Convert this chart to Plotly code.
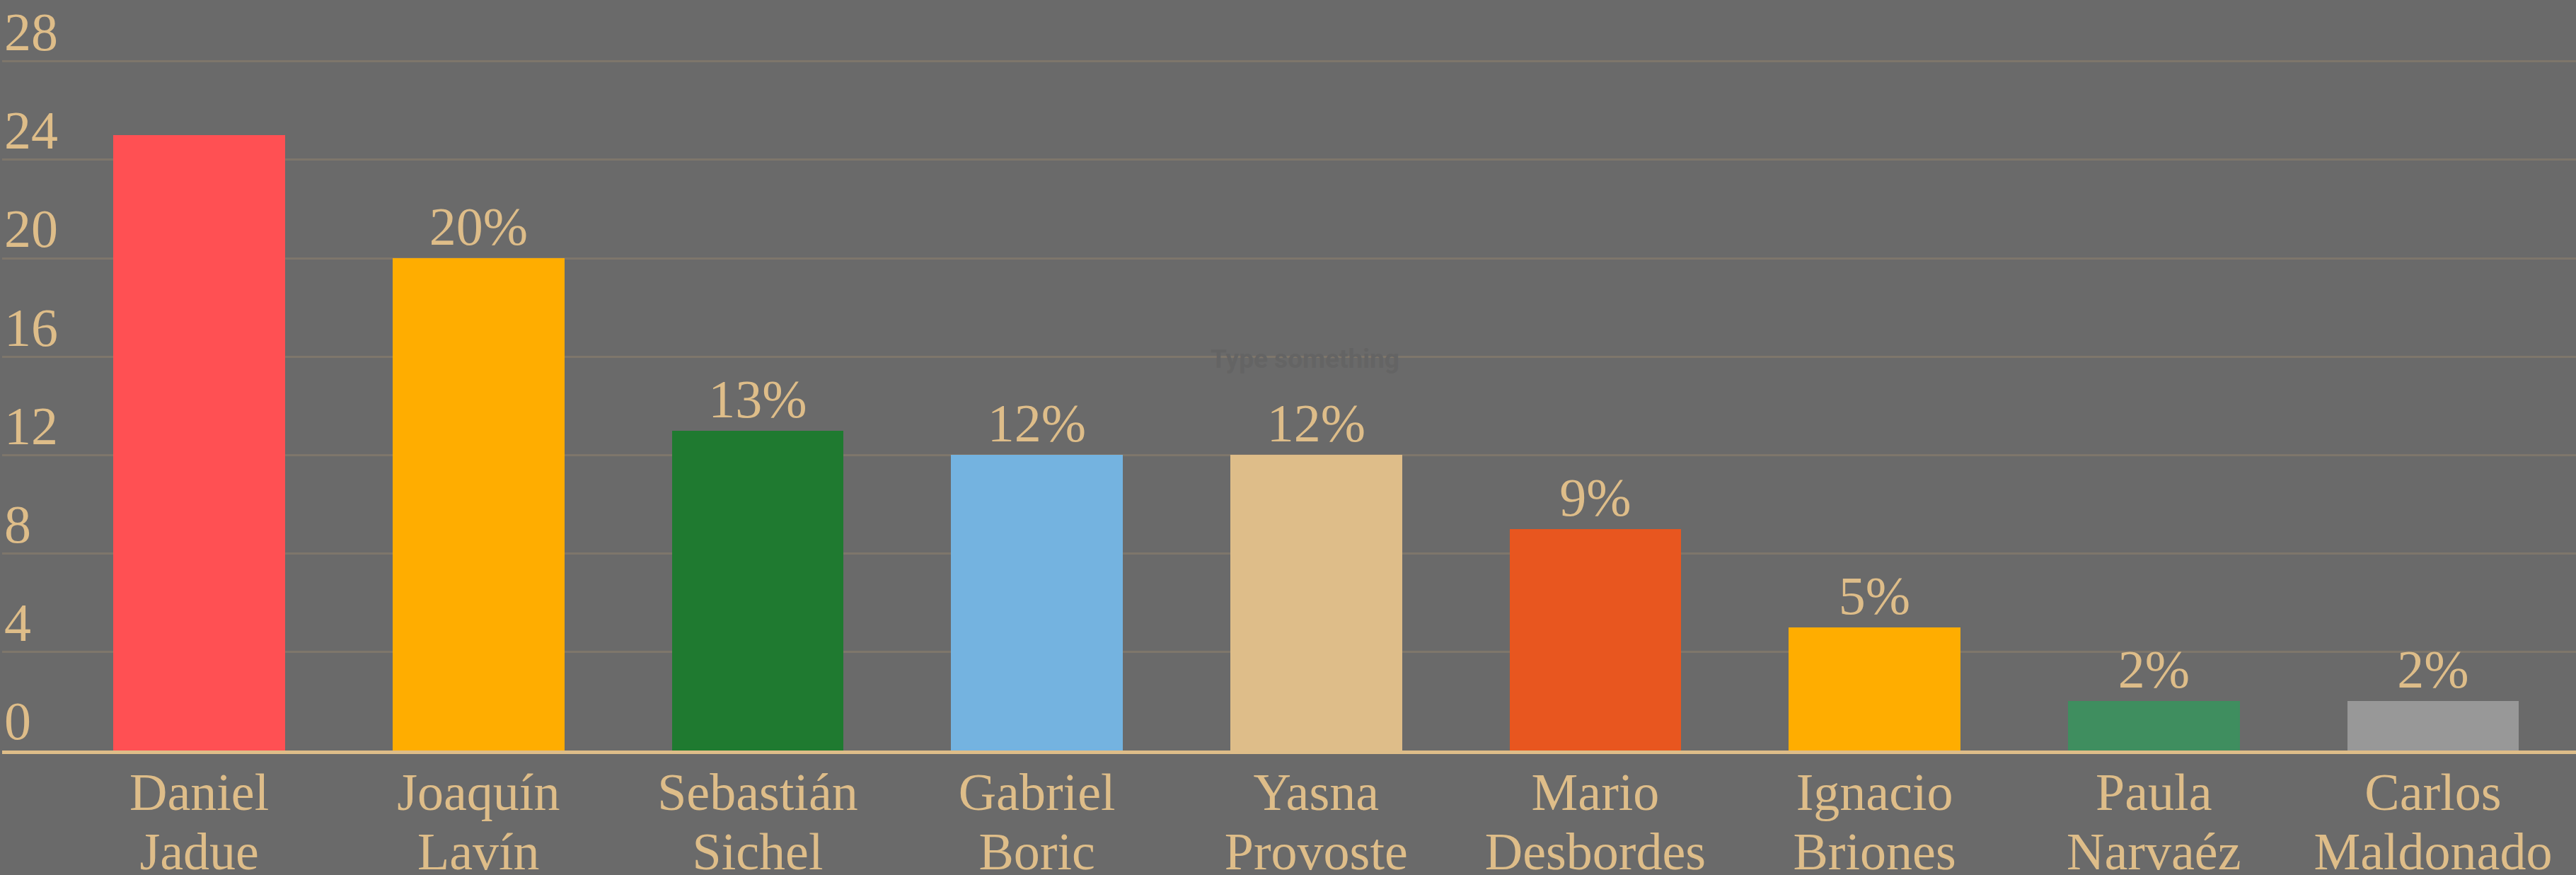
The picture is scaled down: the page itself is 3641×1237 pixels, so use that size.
import plotly.graph_objects as go

first_names = ["Daniel", "Joaquín", "Sebastián", "Gabriel", "Yasna", "Mario", "Ignacio", "Paula", "Carlos"]
last_names = ["Jadue", "Lavín", "Sichel", "Boric", "Provoste", "Desbordes", "Briones", "Narvaéz", "Maldonado"]
values = [25, 20, 13, 12, 12, 9, 5, 2, 2]
labels = ["", "20%", "13%", "12%", "12%", "9%", "5%", "2%", "2%"]
colors = ["#FF5053", "#FFAD00", "#1F7A30", "#74B3E0", "#DEBD89", "#E8561F", "#FFAD00", "#3F8E5F", "#989898"]
y_ticks = [0, 4, 8, 12, 16, 20, 24, 28]

TAN = "#DEBD89"
BG = "#6A6A6A"
FONT = "Liberation Serif, Times New Roman, serif"

cats = list(range(len(first_names)))
XRANGE = [-0.706, 8.512]

fig = go.Figure()
fig.add_trace(go.Bar(
    x=cats,
    y=values,
    width=0.615,
    marker=dict(color=colors, line=dict(width=0)),
    text=labels,
    textposition="outside",
    textfont=dict(family=FONT, size=76, color=TAN),
    cliponaxis=False,
    hoverinfo="skip",
))
# invisible trace carrying the second line of the category labels
fig.add_trace(go.Scatter(x=cats, y=values, xaxis="x2", mode="none", hoverinfo="skip", showlegend=False))

fig.add_annotation(
    text="Type something", xref="paper", yref="y", x=0.5063, y=15.9,
    showarrow=False, font=dict(family="Roboto", size=37, color="#646464", weight="bold"),
)

fig.update_layout(
    width=3641, height=1237,
    margin=dict(l=3, r=0, t=0, b=176, autoexpand=False),
    paper_bgcolor=BG, plot_bgcolor=BG,
    showlegend=False,
    bargap=0,
    xaxis=dict(
        range=XRANGE, automargin=False,
        tickmode="array", tickvals=cats, ticktext=first_names,
        tickfont=dict(family=FONT, size=74, color=TAN),
        ticklabelstandoff=-10,
        showgrid=False, zeroline=False,
        showline=True, linecolor=TAN, linewidth=5,
        ticks="",
    ),
    xaxis2=dict(
        range=XRANGE, overlaying="x", side="bottom", anchor="y", automargin=False,
        tickmode="array", tickvals=cats, ticktext=last_names,
        tickfont=dict(family=FONT, size=74, color=TAN),
        ticklabelstandoff=93,
        showgrid=False, zeroline=False, showline=False, ticks="",
    ),
    yaxis=dict(
        range=[0, 30.49], automargin=False,
        tickmode="array", tickvals=y_ticks, ticktext=[str(v) for v in y_ticks],
        tickfont=dict(family=FONT, size=76, color=TAN),
        ticklabelposition="inside top",
        ticklabeloverflow="allow",
        ticklabelshift=11,
        showgrid=True, gridcolor="#7E766B", gridwidth=3,
        zeroline=False, showline=False, ticks="",
    ),
)

fig.write_html(
    "out.html",
    config={"displayModeBar": False},
    post_script="document.body.style.margin='0';document.body.style.padding='0';document.body.style.overflow='hidden';",
)
